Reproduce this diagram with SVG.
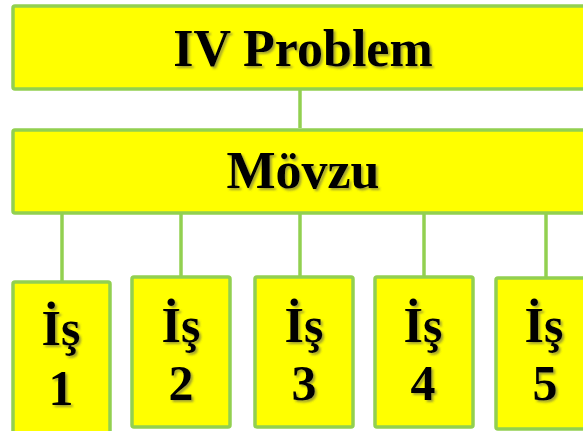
<svg xmlns="http://www.w3.org/2000/svg" width="583" height="431" viewBox="0 0 583 431">
<defs>
<filter id="sh" x="-20%" y="-20%" width="140%" height="140%">
<feDropShadow dx="2" dy="2" stdDeviation="1.2" flood-color="#555" flood-opacity="0.55"/>
</filter>
</defs>
<style>
.box{fill:#FFFF00;stroke:#92D050;stroke-width:3.5}
.ln{stroke:#92D050;stroke-width:3.5;fill:none}
.t{font-family:"Liberation Serif","Times New Roman",serif;font-weight:bold;fill:#000;text-anchor:middle;filter:url(#sh)}
.big{font-size:52px}
.sm{font-size:50px}
</style>
<rect width="583" height="431" fill="#fff"/>
<g id="connectors">
<line class="ln" x1="300" y1="89" x2="300" y2="128"/>
<line class="ln" x1="62" y1="213" x2="62" y2="282"/>
<line class="ln" x1="181" y1="213" x2="181" y2="277"/>
<line class="ln" x1="300" y1="213" x2="300" y2="277"/>
<line class="ln" x1="424" y1="213" x2="424" y2="277"/>
<line class="ln" x1="546" y1="213" x2="546" y2="278"/>
</g>
<g id="node-problem">
<rect class="box" x="13" y="6" width="600" height="83" rx="2"/>
<text class="t big" x="303" y="66">IV Problem</text>
</g>
<g id="node-movzu">
<rect class="box" x="13" y="130" width="600" height="83" rx="2"/>
<text class="t big" x="303" y="188">Mövzu</text>
</g>
<g id="node-is1">
<rect class="box" x="13" y="282" width="97" height="170" rx="2"/>
<text class="t sm" x="61" y="345">İş</text>
<text class="t sm" x="61" y="405">1</text>
</g>
<g id="node-is2">
<rect class="box" x="132" y="277" width="98" height="150" rx="2"/>
<text class="t sm" x="181" y="342">İş</text>
<text class="t sm" x="181" y="400">2</text>
</g>
<g id="node-is3">
<rect class="box" x="255" y="277" width="98" height="150" rx="2"/>
<text class="t sm" x="304" y="342">İş</text>
<text class="t sm" x="304" y="400">3</text>
</g>
<g id="node-is4">
<rect class="box" x="375" y="277" width="98" height="150" rx="2"/>
<text class="t sm" x="423" y="342">İş</text>
<text class="t sm" x="423" y="400">4</text>
</g>
<g id="node-is5">
<rect class="box" x="496" y="278" width="120" height="151" rx="2"/>
<text class="t sm" x="544" y="342">İş</text>
<text class="t sm" x="545" y="400">5</text>
</g>
</svg>
